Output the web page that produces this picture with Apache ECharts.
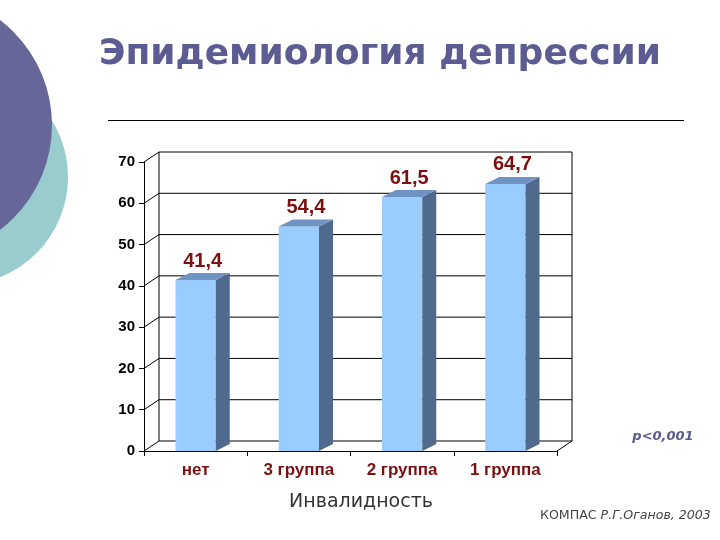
<!DOCTYPE html>
<html>
<head>
<meta charset="utf-8">
<script src="https://cdn.jsdelivr.net/npm/echarts@6/dist/echarts.min.js"></script>
<style>
  html, body { margin: 0; padding: 0; background: #fff; }
  #chart { width: 720px; height: 540px; }
</style>
</head>
<body>
<div id="chart"></div>
<script>
// данные
var categories = ['нет', '3 группа', '2 группа', '1 группа']
var values = [41.4, 54.4, 61.5, 64.7]
var yTicks = [0, 10, 20, 30, 40, 50, 60, 70]

// глубина "3D" стенок и столбиков
var WDX = 15, WDY = -10
var BDX = 14, BDY = -7

var chart = echarts.init(document.getElementById('chart'))

function renderWall (params, api) {
  var cs = params.coordSys
  var x0 = cs.x, x1 = cs.x + cs.width
  var y = api.coord([0, api.value(1)])[1]
  var lineStyle = { stroke: '#000', lineWidth: 1 }
  var children = [
    { type: 'line', shape: { x1: x0 + WDX, y1: y + WDY, x2: x1 + WDX, y2: y + WDY }, style: lineStyle },
    { type: 'line', shape: { x1: x0, y1: y, x2: x0 + WDX, y2: y + WDY }, style: lineStyle }
  ]
  if (params.dataIndex === 0) {
    var yb = y
    var yt = api.coord([0, yTicks[yTicks.length - 1]])[1]
    children.push(
      { type: 'line', shape: { x1: x0 + WDX, y1: yt + WDY, x2: x0 + WDX, y2: yb + WDY }, style: lineStyle },
      { type: 'line', shape: { x1: x1 + WDX, y1: yt + WDY, x2: x1 + WDX, y2: yb + WDY }, style: lineStyle },
      { type: 'line', shape: { x1: x1, y1: yb, x2: x1 + WDX, y2: yb + WDY }, style: lineStyle }
    )
  }
  return { type: 'group', children: children }
}

function renderBar (params, api) {
  var base = api.coord([api.value(0), 0])
  var top = api.coord([api.value(0), api.value(1)])
  var bw = api.size([1, 0])[0] * 0.39
  var xl = top[0] - bw / 2
  var xr = top[0] + bw / 2
  return {
    type: 'group',
    children: [
      {
        type: 'rect',
        shape: { x: xl, y: top[1], width: bw, height: base[1] - top[1] },
        style: { fill: '#99CCFF' }
      },
      {
        type: 'polygon',
        shape: { points: [[xr, top[1]], [xr + BDX, top[1] + BDY], [xr + BDX, base[1] + BDY], [xr, base[1]]] },
        style: { fill: '#4F6A8C' }
      },
      {
        type: 'polygon',
        shape: { points: [[xl, top[1]], [xl + BDX, top[1] + BDY], [xr + BDX, top[1] + BDY], [xr, top[1]]] },
        style: { fill: '#7193C4' }
      },
      {
        type: 'text',
        x: top[0] + BDX / 2,
        y: top[1] + BDY - 2,
        style: {
          text: api.value(1).toFixed(1).replace('.', ','),
          fill: '#7A1010',
          font: 'bold 20px "Liberation Sans", Arial, sans-serif',
          align: 'center',
          verticalAlign: 'bottom'
        }
      }
    ]
  }
}

chart.setOption({
  backgroundColor: '#fff',
  animation: false,
  graphic: [
    { type: 'circle', shape: { cx: -40, cy: 177, r: 108 }, style: { fill: '#99CCCC' }, z: 0 },
    { type: 'circle', shape: { cx: -80, cy: 125, r: 132 }, style: { fill: '#666699' }, z: 1 },
    {
      type: 'text', x: 380, y: 55,
      style: {
        text: 'Эпидемиология депрессии',
        fill: '#5C5C93',
        font: 'bold 36px "DejaVu Sans", sans-serif',
        align: 'center', verticalAlign: 'middle'
      }
    },
    { type: 'line', shape: { x1: 108, y1: 120.5, x2: 684, y2: 120.5 }, style: { stroke: '#000', lineWidth: 1 } },
    {
      type: 'text', x: 663, y: 437,
      style: {
        text: 'p<0,001',
        fill: '#5A5A8A',
        font: 'italic bold 13px "DejaVu Sans", sans-serif',
        align: 'center', verticalAlign: 'middle'
      }
    },
    {
      type: 'text', x: 361, y: 502,
      style: {
        text: 'Инвалидность',
        fill: '#333',
        font: '19px "DejaVu Sans", sans-serif',
        align: 'center', verticalAlign: 'middle'
      }
    },
    {
      type: 'text', x: 540, y: 516,
      style: {
        text: '{a|КОМПАС }{b|Р.Г.Оганов, 2003}',
        align: 'left', verticalAlign: 'middle',
        rich: {
          a: { fill: '#444', font: '12.6px "DejaVu Sans", sans-serif' },
          b: { fill: '#444', font: 'italic 12.6px "DejaVu Sans", sans-serif' }
        }
      }
    }
  ],
  grid: {
    left: 144,
    right: 163,
    top: 162,
    bottom: 89
  },
  xAxis: {
    type: 'category',
    data: categories,
    axisLine: { lineStyle: { color: '#000', width: 1 } },
    axisTick: { show: true, length: 5, lineStyle: { color: '#000' } },
    axisLabel: {
      margin: 11,
      color: '#7A1010',
      fontWeight: 'bold',
      fontSize: 17,
      fontFamily: '"Liberation Sans", Arial, sans-serif'
    },
    splitLine: { show: false }
  },
  yAxis: {
    type: 'value',
    min: 0,
    max: 70,
    interval: 10,
    axisLine: { show: true, lineStyle: { color: '#000', width: 1 } },
    axisTick: { show: true, length: 5, lineStyle: { color: '#000' } },
    axisLabel: {
      margin: 9,
      color: '#000',
      fontWeight: 'bold',
      fontSize: 15,
      fontFamily: '"Liberation Sans", Arial, sans-serif'
    },
    splitLine: { show: false }
  },
  series: [
    {
      type: 'custom',
      renderItem: renderWall,
      data: yTicks.map(function (v) { return [0, v] }),
      z: 1,
      silent: true
    },
    {
      type: 'custom',
      renderItem: renderBar,
      data: values.map(function (v, i) { return [i, v] }),
      z: 3
    }
  ]
})
</script>
</body>
</html>
